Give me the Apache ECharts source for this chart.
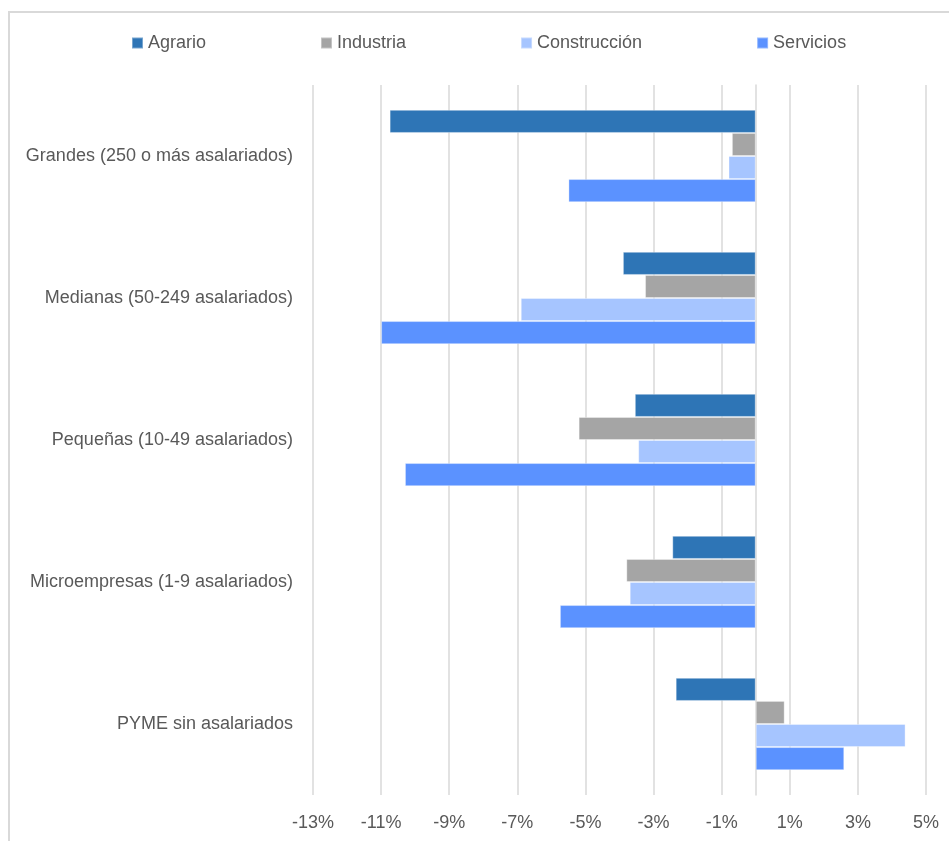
<!DOCTYPE html>
<html>
<head>
<meta charset="utf-8">
<script src="https://cdn.jsdelivr.net/npm/echarts@6/dist/echarts.min.js"></script>
<style>
html,body{margin:0;padding:0;background:#fff;}
#main{width:949px;height:841px;}
</style>
</head>
<body>
<div id="main"></div>
<script>
const categories = ["Grandes (250 o más asalariados)", "Medianas (50-249 asalariados)", "Pequeñas (10-49 asalariados)", "Microempresas (1-9 asalariados)", "PYME sin asalariados"];
const seriesNames = ["Agrario", "Industria", "Construcción", "Servicios"];
const agrario = [-10.75, -3.9, -3.55, -2.45, -2.35];
const industria = [-0.7, -3.25, -5.2, -3.8, 0.85];
const construccion = [-0.8, -6.9, -3.45, -3.7, 4.4];
const servicios = [-5.5, -11.0, -10.3, -5.75, 2.6];
const colors = ["#2E75B6", "#A5A5A5", "#A6C5FF", "#5B92FF"];
const seriesData = [agrario, industria, construccion, servicios];

const FONT = "Liberation Sans";
const chart = echarts.init(document.getElementById('main'), null, {renderer: 'canvas'});
chart.setOption({
  animation: false,
  backgroundColor: '#fff',
  textStyle: {fontFamily: FONT},
  graphic: [{
    type: 'polyline',
    shape: {points: [[9, 845], [9, 12], [955, 12]]},
    style: {stroke: '#D9D9D9', lineWidth: 2, fill: null},
    silent: true
  }],
  legend: {
    top: 29,
    left: 126,
    itemWidth: 11,
    itemHeight: 11,
    itemGap: 114,
    icon: 'rect',
    textStyle: {fontFamily: FONT, fontSize: 18, color: '#595959'},
    data: seriesNames
  },
  grid: {left: 313, right: 23, top: 85, bottom: 46, containLabel: false},
  xAxis: {
    type: 'value',
    min: -13, max: 5, interval: 2,
    axisLine: {show: false},
    axisTick: {show: false},
    axisLabel: {formatter: v => v + '%', fontFamily: FONT, fontSize: 18, color: '#595959', margin: 19},
    splitLine: {show: true, lineStyle: {color: '#D9D9D9', width: 1.5}}
  },
  yAxis: {
    type: 'category',
    inverse: true,
    data: categories,
    axisLine: {show: true, onZero: true, lineStyle: {color: '#D9D9D9', width: 1.5}},
    axisTick: {show: false},
    axisLabel: {fontFamily: FONT, fontSize: 18, color: '#595959', margin: 20}
  },
  series: seriesNames.map((n, i) => ({
    name: n,
    type: 'bar',
    data: seriesData[i],
    barGap: '0%',
    barCategoryGap: '35%',
    itemStyle: {color: colors[i], borderColor: 'rgba(255,255,255,0.35)', borderWidth: 1}
  })),
  color: colors
});
</script>
</body>
</html>
